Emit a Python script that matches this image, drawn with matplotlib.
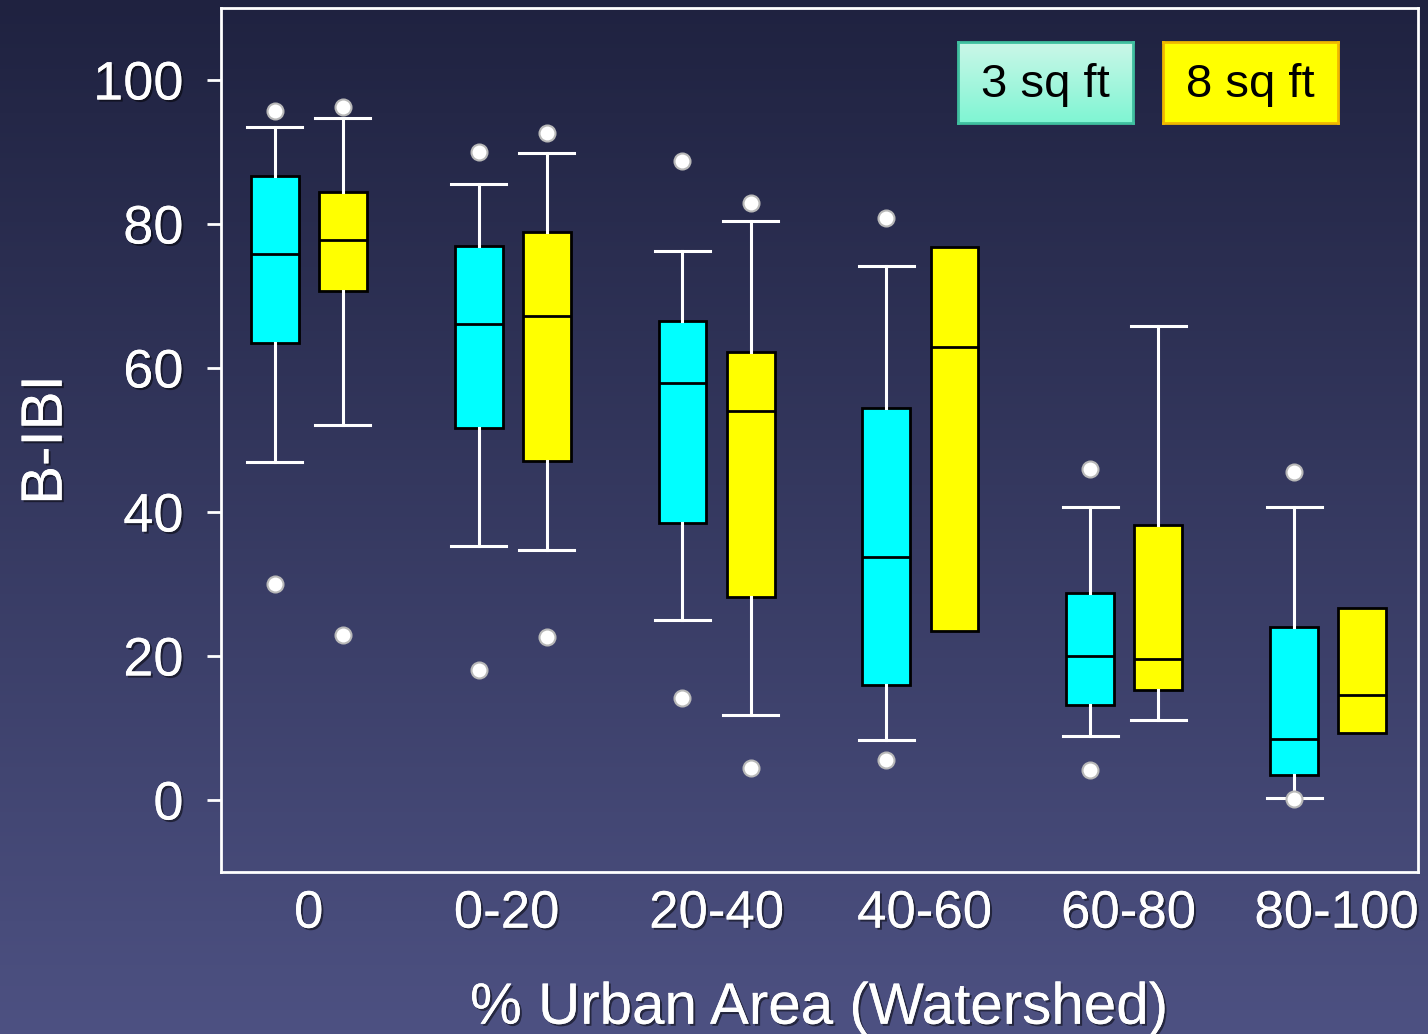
import numpy as np
import matplotlib
matplotlib.use("Agg")
import matplotlib.pyplot as plt
import matplotlib.patheffects as pe

plt.rcParams["font.family"] = ["Liberation Sans", "DejaVu Sans"]

# ---- data: box statistics per urban-area class ----
classes = ["0", "0-20", "20-40", "40-60", "60-80", "80-100"]
series_names = ["3 sq ft", "8 sq ft"]

# 3 sq ft samples
s3_whislo = [46.9, 35.3, 25.0, 8.3, 8.9, 0.3]
s3_q1 = [63.5, 51.7, 38.5, 16.0, 13.2, 3.5]
s3_med = [75.8, 66.1, 57.9, 33.8, 20.0, 8.5]
s3_q3 = [86.7, 76.9, 66.5, 54.4, 28.8, 24.0]
s3_whishi = [93.5, 85.6, 76.3, 74.2, 40.7, 40.7]
s3_fliers = [[95.7, 30.0], [90.0, 18.1], [88.8, 14.2],
             [80.8, 5.6], [46.0, 4.2], [45.6, 0.1]]

# 8 sq ft samples
s8_whislo = [52.1, 34.7, 11.8, 23.5, 11.1, 9.3]
s8_q1 = [70.7, 47.1, 28.2, 23.5, 15.3, 9.3]
s8_med = [77.8, 67.2, 54.0, 62.9, 19.6, 14.6]
s8_q3 = [84.4, 78.9, 62.2, 76.8, 38.2, 26.7]
s8_whishi = [94.7, 89.9, 80.4, 76.8, 65.8, 26.7]
s8_fliers = [[96.3, 22.9], [92.6, 22.6], [82.9, 4.4],
             [], [], []]

W, H = 1428, 1034
fig = plt.figure(figsize=(W / 100, H / 100), dpi=100)

# vertical gradient backdrop
bg = fig.add_axes([0, 0, 1, 1], zorder=-10)
grad = np.linspace(0, 1, 256)[:, None]
top = np.array([31, 34, 64]) / 255
bot = np.array([77, 81, 130]) / 255
img = top + (bot - top) * grad[..., None]
bg.imshow(img, aspect="auto", extent=[0, 1, 0, 1])
bg.set_axis_off()

ax = fig.add_axes([221 / W, 1 - 872 / H, (1418 - 221) / W, (872 - 8) / H])
ax.set_facecolor("none")


def make_stats(lo, q1, med, q3, hi, fl):
    return [dict(whislo=a, q1=b, med=c, q3=d, whishi=e, fliers=f)
            for a, b, c, d, e, f in zip(lo, q1, med, q3, hi, fl)]


pos = np.arange(len(classes))
off = 0.167
common = dict(widths=0.235, capwidths=0.27, patch_artist=True,
              whiskerprops=dict(color="white", lw=2.2),
              capprops=dict(color="white", lw=2.2),
              medianprops=dict(color="black", lw=2),
              flierprops=dict(marker="o", markersize=11.5,
                              markerfacecolor="white",
                              markeredgecolor="#b8b8b8", markeredgewidth=1.5,
                              linestyle="none"))

groups = [
    (make_stats(s3_whislo, s3_q1, s3_med, s3_q3, s3_whishi, s3_fliers),
     pos - off, "#00ffff"),
    (make_stats(s8_whislo, s8_q1, s8_med, s8_q3, s8_whishi, s8_fliers),
     pos + off, "#ffff00"),
]
for stats, p, col in groups:
    art = ax.bxp(stats, positions=p,
                 boxprops=dict(facecolor=col, edgecolor="black", lw=2),
                 **common)
    # boxes whose whiskers collapse onto the box get no caps
    for i, s in enumerate(stats):
        if s["whislo"] == s["q1"] and s["whishi"] == s["q3"]:
            art["caps"][2 * i].set_visible(False)
            art["caps"][2 * i + 1].set_visible(False)

ax.set_xlim(-0.43, 5.44)
ax.set_ylim(-10, 110)
ax.set_yticks([0, 20, 40, 60, 80, 100])
# category labels sit slightly off the box-pair centres
ax.set_xticks([0, 0.97, 2.0, 3.02, 4.02, 5.04])
ax.set_xticklabels(classes)

for sp in ax.spines.values():
    sp.set_color("white")
    sp.set_linewidth(2)

shadow = [pe.withSimplePatchShadow(offset=(1.5, -1.5), shadow_rgbFace="black",
                                   alpha=0.5), pe.Normal()]
ax.tick_params(axis="y", colors="white", labelsize=39, length=10, width=2,
               pad=17)
ax.tick_params(axis="x", colors="white", labelsize=38, length=0, pad=12)
for lab in ax.get_xticklabels() + ax.get_yticklabels():
    lab.set_path_effects(shadow)

ax.set_ylabel("B-IBI", color="white", fontsize=42, labelpad=14,
              path_effects=shadow)
ax.set_xlabel("% Urban Area (Watershed)", color="white", fontsize=42,
              labelpad=31, path_effects=shadow)

# legend boxes
leg_specs = [
    (958, series_names[0], ("#cbf7e8", "#7ff5d3"), "#3fbf9f"),
    (1163, series_names[1], ("#ffff00", "#ffff00"), "#f0b800"),
]
for x0, name, (c_top, c_bot), edge in leg_specs:
    la = fig.add_axes([x0 / W, 1 - 123 / H, 175 / W, 81 / H])
    ct = np.array(matplotlib.colors.to_rgb(c_top))
    cb = np.array(matplotlib.colors.to_rgb(c_bot))
    la.imshow(ct + (cb - ct) * grad[..., None], aspect="auto",
              extent=[0, 1, 0, 1])
    la.set_xticks([])
    la.set_yticks([])
    for sp in la.spines.values():
        sp.set_color(edge)
        sp.set_linewidth(2)
    la.text(0.5, 0.47, name, ha="center", va="center", fontsize=34,
            color="black", transform=la.transAxes)

fig.savefig("out.png", dpi=100)
